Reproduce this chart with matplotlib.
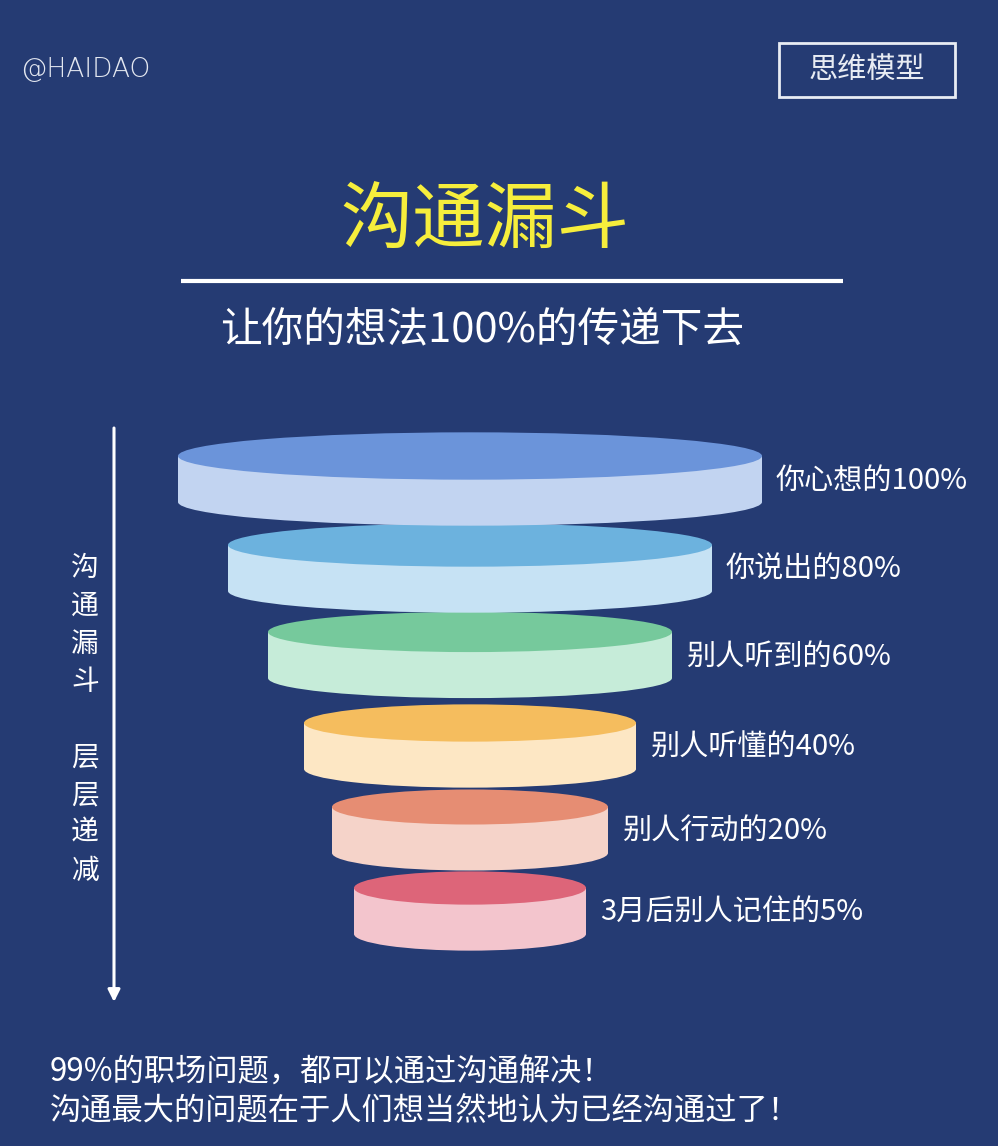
import matplotlib
matplotlib.use('Agg')
import matplotlib.pyplot as plt
from matplotlib.patches import Ellipse, Rectangle

plt.rcParams['font.family'] = ['Noto Sans CJK SC', 'DejaVu Sans']

# funnel data
stages = ['你心想的', '你说出的', '别人听到的', '别人听懂的', '别人行动的', '3月后别人记住的']
percents = [100, 80, 60, 40, 20, 5]
top_colors = ['#6b94da', '#6cb2de', '#76c99c', '#f5bd5e', '#e68d73', '#dd6579']
side_colors = ['#c2d4f1', '#c6e2f4', '#c6ecd9', '#fde7c4', '#f5d3c9', '#f3c5cd']

title = '沟通漏斗'
subtitle = '让你的想法100%的传递下去'
side_text = ['沟通漏斗', '层层递减']
footer = ['99%的职场问题，都可以通过沟通解决！',
          '沟通最大的问题在于人们想当然地认为已经沟通过了！']

# layout (pixels)
W, H = 998, 1146
bg = '#253b73'
cx = 470
disk_rx = [292, 242, 202, 166, 138, 116]
disk_cy = [456, 545, 632, 723, 807, 888]
side_h = 46

fig = plt.figure(figsize=(W / 100, H / 100), dpi=100, facecolor=bg)
ax = fig.add_axes([0, 0, 1, 1])
ax.set_xlim(0, W)
ax.set_ylim(H, 0)
ax.set_facecolor(bg)
ax.axis('off')

# cylinders, lower ones drawn underneath
for i, (name, p) in enumerate(zip(stages, percents)):
    rx = disk_rx[i]
    cy = disk_cy[i]
    ry = 12 + rx * 0.04
    z = 10 + (len(stages) - i) * 3
    ax.add_patch(Ellipse((cx, cy + side_h), 2 * rx, 2 * ry, color=side_colors[i], lw=0, zorder=z))
    ax.add_patch(Rectangle((cx - rx, cy), 2 * rx, side_h, color=side_colors[i], lw=0, zorder=z + 1))
    ax.add_patch(Ellipse((cx, cy), 2 * rx, 2 * ry, color=top_colors[i], lw=0, zorder=z + 2))
    ax.text(cx + rx + 14, cy + 25, f'{name}{p}%', color='white', fontsize=21,
            ha='left', va='center', zorder=40)

# header
ax.text(20, 70, '@HAIDAO', color='#e3e7f0', fontsize=19, ha='left', va='center',
        family=['DejaVu Sans'], fontweight='light')
ax.add_patch(Rectangle((779, 43), 176, 54, fill=False, ec='#e8ecf3', lw=2))
ax.text(867, 70, '思维模型', color='#e8ecf3', fontsize=21, ha='center', va='center')

ax.text(485, 222, title, color='#f6ee3c', fontsize=52, ha='center', va='center',
        fontweight='medium')
ax.plot([181, 843], [281, 281], color='white', lw=3, solid_capstyle='butt')
ax.text(482, 330, subtitle, color='white', fontsize=30, ha='center', va='center')

# left arrow with vertical text
ax.annotate('', xy=(114, 1002), xytext=(114, 428),
            arrowprops=dict(arrowstyle='-|>', color='white', lw=2.2,
                            mutation_scale=18, shrinkA=0, shrinkB=0))
for j, word in enumerate(side_text):
    y0 = 568 + j * 189
    for k, ch in enumerate(word):
        ax.text(85, y0 + k * 38, ch, color='white', fontsize=20, ha='center', va='center')

# footer
for j, line in enumerate(footer):
    ax.text(50, 1073 + j * 38, line, color='white', fontsize=22.5, ha='left', va='center')

fig.savefig('out.png', dpi=100, facecolor=bg)
